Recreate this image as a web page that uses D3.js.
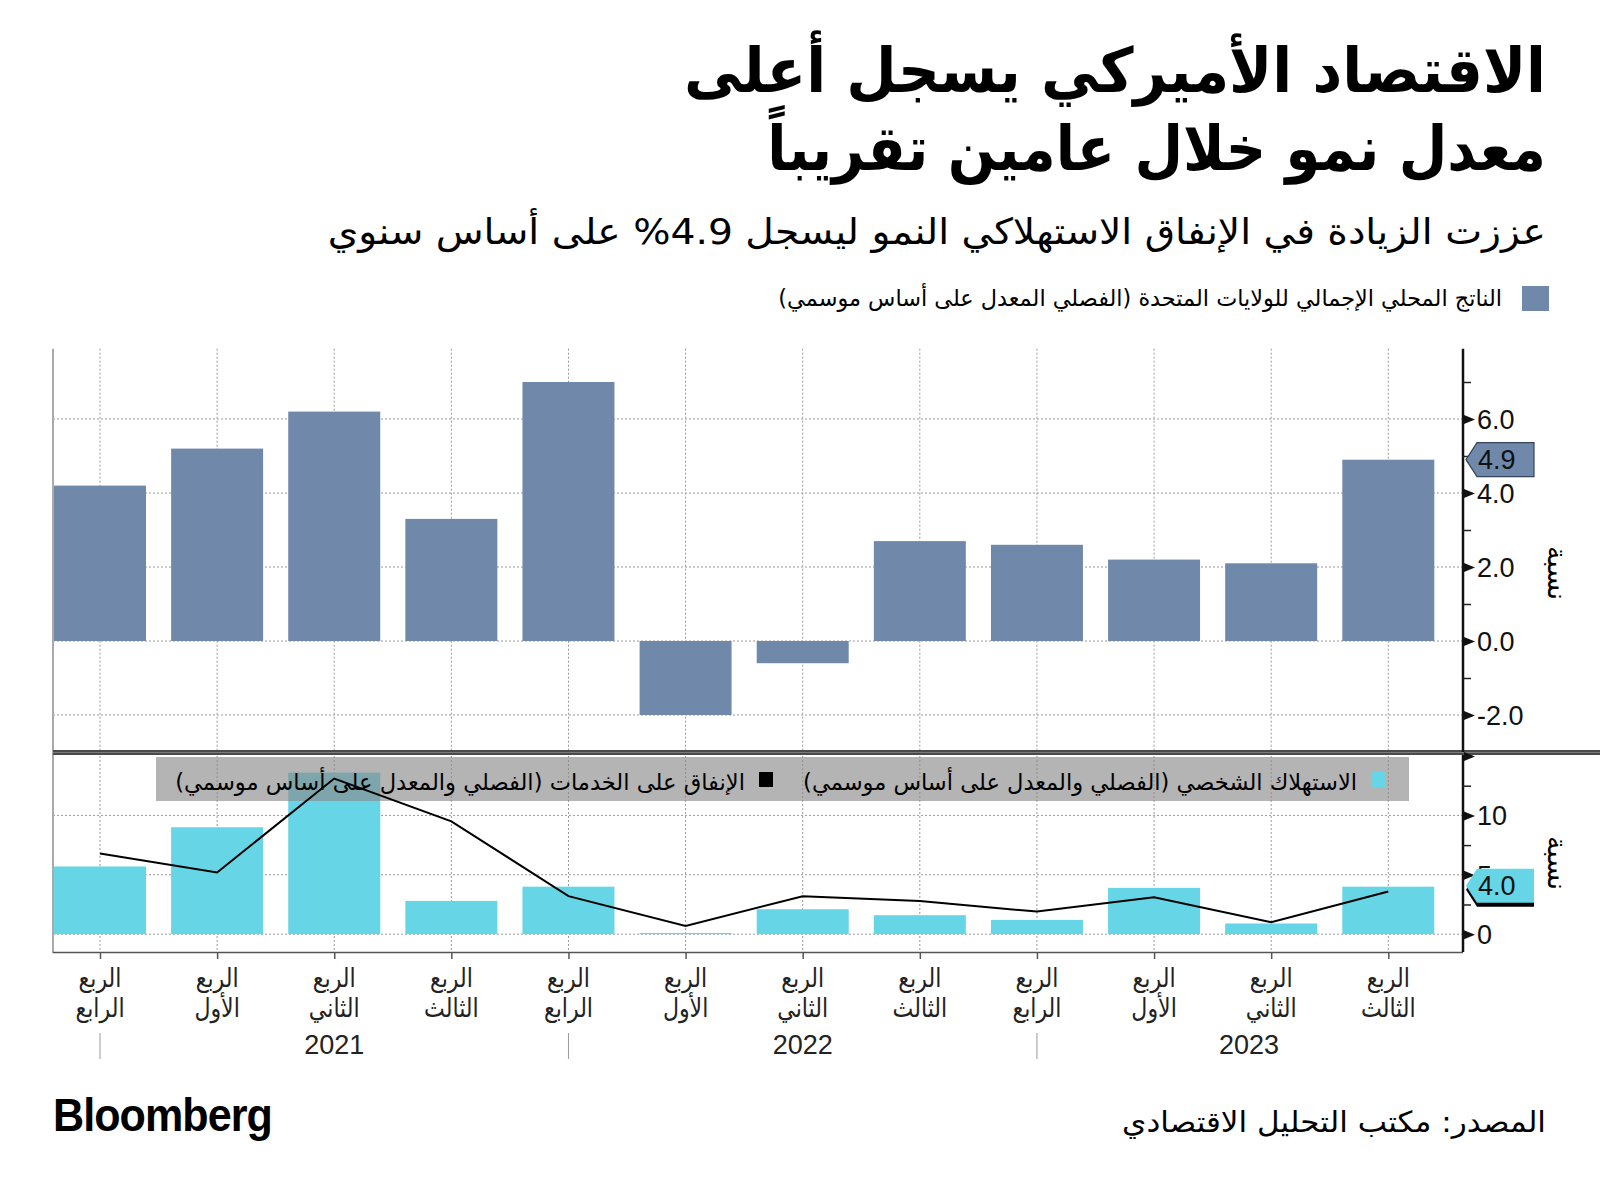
<!DOCTYPE html>
<html>
<head>
<meta charset="utf-8">
<script src="https://cdn.jsdelivr.net/npm/d3@7"></script>
<style>
  html, body { margin: 0; padding: 0; background: #fff; }
  svg { display: block; }
  .ar { font-family: "DejaVu Sans", sans-serif; }
  .num { font-family: "Liberation Sans", "DejaVu Sans", sans-serif; }
</style>
</head>
<body>
<svg id="chart" width="1600" height="1197"></svg>
<script>
// ---------------- data ----------------
const quarters = ["2020Q4","2021Q1","2021Q2","2021Q3","2021Q4","2022Q1","2022Q2","2022Q3","2022Q4","2023Q1","2023Q2","2023Q3"];
const quarterWord = "الربع";
const quarterNames = ["الرابع","الأول","الثاني","الثالث","الرابع","الأول","الثاني","الثالث","الرابع","الأول","الثاني","الثالث"];
const yearLabels = ["2021","2022","2023"];
const gdp = [4.2, 5.2, 6.2, 3.3, 7.0, -2.0, -0.6, 2.7, 2.6, 2.2, 2.1, 4.9];
const consumption = [5.7, 9.0, 13.6, 2.8, 4.0, 0.1, 2.1, 1.6, 1.2, 3.9, 0.9, 4.0];
const services = [6.8, 5.2, 13.1, 9.5, 3.2, 0.7, 3.2, 2.8, 1.9, 3.1, 1.0, 3.6];
const topTicks = [-2, 0, 2, 4, 6];
const topMinor = [-1, 1, 3, 5, 7];
const botTicks = [0, 5, 10, 15];
const botMinor = [2.5, 7.5, 12.5];

const title1 = "الاقتصاد الأميركي يسجل أعلى";
const title2 = "معدل نمو خلال عامين تقريباً";
const subtitle = "عززت الزيادة في الإنفاق الاستهلاكي النمو ليسجل \u2066%4.9\u2069 على أساس سنوي";
const legendGdp = "الناتج المحلي الإجمالي للولايات المتحدة (الفصلي المعدل على أساس موسمي)";
const legendCons = "الاستهلاك الشخصي (الفصلي والمعدل على أساس موسمي)";
const legendServ = "الإنفاق على الخدمات (الفصلي والمعدل على أساس موسمي)";
const axisTitle = "نسبة";
const sourceText = "المصدر: مكتب التحليل الاقتصادي";

// ---------------- colors ----------------
const cGdp = "#7089ab";
const cCons = "#66d5e5";

const svg = d3.select("#chart");

// fit text bbox horizontally into [right - width, right]
function fitRight(sel, right, width) {
  const b = sel.node().getBBox();
  const s = width / b.width;
  const tx = right - width - s * b.x;
  sel.attr("transform", `translate(${tx},0) scale(${s},1)`);
}

// ---------------- layout ----------------
const plotL = 53, axisX = 1463;
const topY0 = 348.7, sepY = 752, botY1 = 952;

const x = d3.scalePoint().domain(quarters).range([100, 1388.3]);
const barW = 92;

const yTop = d3.scaleLinear().domain([-3, 7.9]).range([sepY, topY0]);
const yBot = d3.scaleLinear().domain([-1.5, 15]).range([botY1, 756]);

// ---------------- titles ----------------
const t1 = svg.append("text").attr("class", "ar").attr("direction", "rtl")
  .attr("x", 0).attr("y", 92).attr("font-size", 62).attr("font-weight", "bold")
  .attr("fill", "#000").text(title1);
fitRight(t1, 1546, 862);
const t2 = svg.append("text").attr("class", "ar").attr("direction", "rtl")
  .attr("x", 0).attr("y", 170).attr("font-size", 62).attr("font-weight", "bold")
  .attr("fill", "#000").text(title2);
fitRight(t2, 1546, 779);
const st = svg.append("text").attr("class", "ar").attr("direction", "rtl")
  .attr("x", 0).attr("y", 244).attr("font-size", 36)
  .attr("fill", "#000").text(subtitle);
fitRight(st, 1546, 1219);

// top legend
svg.append("rect").attr("x", 1522).attr("y", 286).attr("width", 27).attr("height", 25).attr("fill", cGdp);
const lg = svg.append("text").attr("class", "ar").attr("direction", "rtl")
  .attr("x", 0).attr("y", 306).attr("font-size", 23).attr("fill", "#000").text(legendGdp);
fitRight(lg, 1502, 724);

// ---------------- grid ----------------
const grid = svg.append("g").attr("stroke", "#9a9a9a").attr("stroke-width", 1).attr("stroke-dasharray", "2,2");
grid.selectAll(".vt").data(quarters).join("line").attr("class", "vt")
  .attr("x1", d => x(d)).attr("x2", d => x(d)).attr("y1", topY0).attr("y2", sepY);
grid.selectAll(".vb").data(quarters).join("line").attr("class", "vb")
  .attr("x1", d => x(d)).attr("x2", d => x(d)).attr("y1", 756).attr("y2", botY1);
grid.selectAll(".ht").data(topTicks).join("line").attr("class", "ht")
  .attr("x1", plotL).attr("x2", axisX).attr("y1", d => yTop(d)).attr("y2", d => yTop(d));
grid.selectAll(".hb").data([0, 5, 10]).join("line").attr("class", "hb")
  .attr("x1", plotL).attr("x2", axisX).attr("y1", d => yBot(d)).attr("y2", d => yBot(d));

// ---------------- top bars ----------------
svg.append("g").selectAll("rect").data(quarters).join("rect")
  .attr("x", d => x(d) - barW / 2)
  .attr("width", barW)
  .attr("y", (d, i) => yTop(Math.max(0, gdp[i])))
  .attr("height", (d, i) => Math.abs(yTop(gdp[i]) - yTop(0)))
  .attr("fill", cGdp);

// ---------------- bottom bars ----------------
svg.append("g").selectAll("rect").data(quarters).join("rect")
  .attr("x", d => x(d) - barW / 2)
  .attr("width", barW)
  .attr("y", (d, i) => yBot(Math.max(0, consumption[i])))
  .attr("height", (d, i) => Math.max(1, Math.abs(yBot(consumption[i]) - yBot(0))))
  .attr("fill", cCons);

// bottom legend box (semi-transparent)
svg.append("rect").attr("x", 156).attr("y", 757).attr("width", 1253).attr("height", 44)
  .attr("fill", "#8a8a8a").attr("fill-opacity", 0.64);
svg.append("rect").attr("x", 1371).attr("y", 772).attr("width", 15).attr("height", 15).attr("fill", cCons);
const lc = svg.append("text").attr("class", "ar").attr("direction", "rtl")
  .attr("x", 0).attr("y", 790).attr("font-size", 23).attr("fill", "#000").text(legendCons);
fitRight(lc, 1357, 554);
svg.append("rect").attr("x", 759).attr("y", 772).attr("width", 14).attr("height", 15).attr("fill", "#000");
const ls = svg.append("text").attr("class", "ar").attr("direction", "rtl")
  .attr("x", 0).attr("y", 790).attr("font-size", 23).attr("fill", "#000").text(legendServ);
fitRight(ls, 745, 570);

// services line
const line = d3.line().x((d, i) => x(quarters[i])).y(d => yBot(d));
svg.append("path").datum(services).attr("d", line)
  .attr("fill", "none").attr("stroke", "#000").attr("stroke-width", 2).attr("stroke-linejoin", "miter");

// ---------------- frame ----------------
svg.append("line").attr("x1", plotL).attr("x2", plotL).attr("y1", topY0).attr("y2", botY1)
  .attr("stroke", "#aaaaaa").attr("stroke-width", 2);
// separator
svg.append("rect").attr("x", plotL).attr("y", 750).attr("width", 1600 - plotL).attr("height", 5).attr("fill", "#4a4a4a");
svg.append("line").attr("x1", plotL).attr("x2", 1600).attr("y1", 752.5).attr("y2", 752.5)
  .attr("stroke", "#7a7a7a").attr("stroke-width", 1);

// x axis
const xAxis = d3.axisBottom(x).tickSize(7).tickFormat("");
const xg = svg.append("g").attr("transform", `translate(0,${botY1})`).call(xAxis);
xg.select(".domain").attr("d", `M${plotL - 0.5},0.5H${axisX}`).attr("stroke", "#555").attr("stroke-width", 1.5);
xg.selectAll(".tick line").attr("stroke", "#555").attr("stroke-width", 1.5);

// x labels
const xl = svg.append("g").attr("class", "ar").attr("font-size", 26).attr("fill", "#222");
quarters.forEach((q, i) => {
  const g = xl.append("g").attr("transform", `translate(${x(q)},0) scale(0.85,1)`);
  g.append("text").attr("direction", "rtl").attr("text-anchor", "middle").attr("y", 987).text(quarterWord);
  g.append("text").attr("direction", "rtl").attr("text-anchor", "middle").attr("y", 1017).text(quarterNames[i]);
});
// year separators and labels
const yearSep = [quarters[0], quarters[4], quarters[8]];
svg.append("g").selectAll("line").data(yearSep).join("line")
  .attr("x1", d => x(d)).attr("x2", d => x(d)).attr("y1", 1033).attr("y2", 1059)
  .attr("stroke", "#9a9a9a").attr("stroke-width", 1);
const yearBounds = [x(quarters[0]), x(quarters[4]), x(quarters[8]), axisX - 2];
svg.append("g").attr("class", "num").selectAll("text").data(yearLabels).join("text")
  .attr("x", (d, i) => (yearBounds[i] + yearBounds[i + 1]) / 2)
  .attr("y", 1054).attr("text-anchor", "middle").attr("font-size", 27).attr("fill", "#222")
  .text(d => d);

// ---------------- right axes ----------------
function drawAxis(scale, ticks, minor, fmt, y1, y2) {
  const g = svg.append("g").attr("transform", `translate(${axisX},0)`);
  g.append("line").attr("x1", 0).attr("x2", 0).attr("y1", y1).attr("y2", y2).attr("stroke", "#111").attr("stroke-width", 2.5);
  const minorAxis = d3.axisRight(scale).tickValues(minor).tickSize(8).tickFormat("");
  const mg = g.append("g").call(minorAxis);
  mg.select(".domain").remove();
  mg.selectAll(".tick line").attr("stroke", "#222").attr("stroke-width", 1.5);
  const majorAxis = d3.axisRight(scale).tickValues(ticks).tickSize(0).tickPadding(14).tickFormat(fmt);
  const ag = g.append("g").call(majorAxis);
  ag.select(".domain").remove();
  ag.selectAll(".tick text").attr("font-family", "Liberation Sans, DejaVu Sans, sans-serif")
    .attr("font-size", 27).attr("fill", "#111").attr("dy", "0.35em");
  ag.selectAll(".tick").append("path").attr("d", "M1,-4.5L12,0L1,4.5Z").attr("fill", "#111");
  return ag;
}
drawAxis(yTop, topTicks, topMinor, d => d.toFixed(1), topY0, sepY);
drawAxis(yBot, botTicks, botMinor, d => (d === 15 ? "" : String(d)), 755, botY1);

// axis titles
svg.append("text").attr("class", "ar").attr("direction", "rtl").attr("text-anchor", "middle")
  .attr("font-size", 27).attr("fill", "#000")
  .attr("transform", "translate(1548,573) rotate(90)").text(axisTitle);
svg.append("text").attr("class", "ar").attr("direction", "rtl").attr("text-anchor", "middle")
  .attr("font-size", 27).attr("fill", "#000")
  .attr("transform", "translate(1548,863) rotate(90)").text(axisTitle);

// ---------------- callouts ----------------
function callout(cy, fill, label, shadow) {
  const pts = [[1466, cy], [1477, cy - 17], [1534, cy - 17], [1534, cy + 17], [1477, cy + 17]];
  const g = svg.append("g");
  if (shadow) {
    g.append("polygon").attr("points", pts.map(p => [p[0], p[1] + 4].join(",")).join(" ")).attr("fill", "#000");
  }
  g.append("polygon").attr("points", pts.map(p => p.join(",")).join(" "))
    .attr("fill", fill).attr("stroke", shadow ? "none" : "#34465e").attr("stroke-width", 1.2);
  g.append("text").attr("class", "num").attr("x", 1478).attr("y", cy).attr("dy", "0.36em")
    .attr("font-size", 27).attr("fill", "#111").text(label);
}
callout(yTop(gdp[gdp.length - 1]), cGdp, gdp[gdp.length - 1].toFixed(1), false);
callout(yBot(consumption[consumption.length - 1]) - 1, cCons, consumption[consumption.length - 1].toFixed(1), true);

// ---------------- footer ----------------
const bl = svg.append("text").attr("x", 0).attr("y", 1131)
  .attr("font-family", "Liberation Sans, Arial, sans-serif").attr("font-weight", "bold")
  .attr("font-size", 46).attr("fill", "#000").attr("letter-spacing", -1).text("Bloomberg");
fitRight(bl, 272, 219);
const src = svg.append("text").attr("class", "ar").attr("direction", "rtl")
  .attr("x", 0).attr("y", 1132).attr("font-size", 29).attr("fill", "#000").text(sourceText);
fitRight(src, 1546, 424);
</script>
</body>
</html>
